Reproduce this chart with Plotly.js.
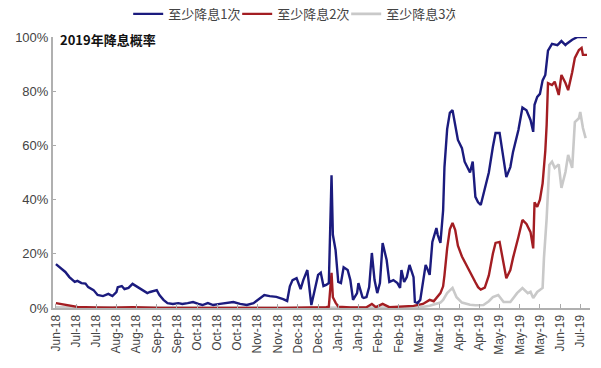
<!DOCTYPE html>
<html>
<head>
<meta charset="utf-8">
<script src="https://cdn.plot.ly/plotly-3.0.1.min.js"></script>
<style>html,body{margin:0;padding:0;background:#fff;}#chart{width:601px;height:368px;}</style>
</head>
<body>
<div id="chart"></div>
<script>
// Series names
const seriesNames = ["至少降息1次", "至少降息2次", "至少降息3次"];
const chartTitle = "2019年降息概率";

// 至少降息1次
const dates1 = ["2018-06-15","2018-06-18","2018-06-22","2018-06-25","2018-06-29","2018-07-01","2018-07-04","2018-07-07","2018-07-09","2018-07-13","2018-07-16","2018-07-20","2018-07-24","2018-07-27","2018-07-30","2018-07-31","2018-08-03","2018-08-05","2018-08-08","2018-08-11","2018-08-15","2018-08-19","2018-08-22","2018-08-24","2018-08-26","2018-08-29","2018-08-31","2018-09-03","2018-09-06","2018-09-10","2018-09-14","2018-09-17","2018-09-21","2018-09-25","2018-09-29","2018-10-02","2018-10-06","2018-10-10","2018-10-15","2018-10-20","2018-10-25","2018-10-30","2018-11-04","2018-11-09","2018-11-14","2018-11-17","2018-11-21","2018-11-26","2018-12-01","2018-12-04","2018-12-06","2018-12-08","2018-12-11","2018-12-14","2018-12-16","2018-12-19","2018-12-22","2018-12-25","2018-12-27","2018-12-29","2018-12-31","2019-01-02","2019-01-04","2019-01-06","2019-01-07","2019-01-09","2019-01-11","2019-01-13","2019-01-15","2019-01-18","2019-01-20","2019-01-22","2019-01-25","2019-01-26","2019-01-29","2019-01-30","2019-02-01","2019-02-03","2019-02-05","2019-02-07","2019-02-09","2019-02-11","2019-02-13","2019-02-16","2019-02-18","2019-02-21","2019-02-24","2019-02-26","2019-02-27","2019-03-01","2019-03-03","2019-03-05","2019-03-08","2019-03-09","2019-03-11","2019-03-13","2019-03-15","2019-03-17","2019-03-18","2019-03-20","2019-03-22","2019-03-23","2019-03-25","2019-03-26","2019-03-28","2019-03-30","2019-03-31","2019-04-02","2019-04-04","2019-04-06","2019-04-08","2019-04-10","2019-04-13","2019-04-15","2019-04-19","2019-04-21","2019-04-23","2019-04-25","2019-04-27","2019-04-30","2019-05-03","2019-05-06","2019-05-08","2019-05-11","2019-05-14","2019-05-16","2019-05-19","2019-05-21","2019-05-25","2019-05-28","2019-05-31","2019-06-03","2019-06-05","2019-06-06","2019-06-08","2019-06-10","2019-06-12","2019-06-14","2019-06-16","2019-06-19","2019-06-23","2019-06-26","2019-06-29","2019-06-30","2019-07-04","2019-07-08","2019-07-15"];
const rate1 = [16.2,14.8,13.3,11.4,9.6,10.0,9.2,9.0,7.7,6.6,4.8,4.4,5.2,4.4,5.9,7.7,8.1,7.0,7.4,8.9,7.7,6.6,5.5,5.9,6.3,6.6,4.8,3.0,1.8,1.5,1.8,1.5,1.8,2.2,1.5,1.1,1.8,1.1,1.5,1.8,2.2,1.5,1.1,1.8,3.7,4.8,4.4,4.1,3.3,2.6,8.0,10.3,11.0,7.0,10.3,14.0,1.1,7.4,12.2,13.0,8.1,8.5,9.2,49.0,27.0,21.4,9.6,9.2,15.0,14.0,10.3,3.0,5.5,9.2,4.0,3.7,4.0,7.7,20.3,10.3,5.5,9.2,24.0,17.7,9.6,10.3,9.2,7.4,14.0,9.6,11.4,15.9,11.4,2.2,1.8,3.0,10.3,15.9,14.8,12.2,24.4,26.2,29.5,27.0,24.0,36.0,52.0,66.0,72.0,73.0,67.0,62.0,59.0,54.0,50.0,54.0,41.0,39.0,38.0,43.5,50.0,59.4,64.6,64.6,54.6,48.3,52.0,57.6,65.7,74.0,73.0,69.4,65.0,75.0,77.9,79.0,84.0,86.0,95.0,97.5,97.0,98.5,97.0,97.5,99.0,100,100];

// 至少降息2次
const dates2 = ["2018-06-15","2018-06-18","2018-06-22","2018-06-25","2018-07-01","2018-07-13","2018-07-27","2018-08-11","2018-08-24","2018-08-31","2018-10-15","2018-11-30","2019-01-02","2019-01-04","2019-01-06","2019-01-07","2019-01-09","2019-01-11","2019-01-20","2019-02-01","2019-02-05","2019-02-08","2019-02-13","2019-02-18","2019-03-08","2019-03-15","2019-03-20","2019-03-23","2019-03-28","2019-03-30","2019-03-31","2019-04-02","2019-04-04","2019-04-06","2019-04-08","2019-04-10","2019-04-13","2019-04-15","2019-04-19","2019-04-21","2019-04-23","2019-04-25","2019-04-27","2019-04-30","2019-05-03","2019-05-06","2019-05-08","2019-05-11","2019-05-14","2019-05-16","2019-05-19","2019-05-21","2019-05-25","2019-05-28","2019-05-31","2019-06-03","2019-06-05","2019-06-06","2019-06-08","2019-06-10","2019-06-12","2019-06-14","2019-06-15","2019-06-16","2019-06-19","2019-06-21","2019-06-24","2019-06-26","2019-06-29","2019-07-01","2019-07-04","2019-07-06","2019-07-09","2019-07-11","2019-07-12","2019-07-15"];
const rate2 = [1.8,1.5,1.1,0.8,0.4,0.2,0.1,0.3,0.2,0,0,0,0.3,0.5,13.0,4.0,2.0,0.5,0.2,0.3,1.5,0.3,1.5,0.3,0.8,1.5,3.0,2.5,5.5,8.0,12.0,22.0,29.0,31.4,28.8,23.0,19.0,17.0,13.0,11.4,9.5,7.7,6.8,7.5,12.0,20.0,24.0,24.4,17.0,11.0,14.0,18.5,26.2,32.5,31.0,28.0,22.0,39.0,37.3,40.0,46.0,58.0,67.5,83.0,82.3,83.5,78.6,86.0,83.0,80.4,87.0,92.3,95.2,96.0,93.4,93.4];

// 至少降息3次
const dates3 = ["2018-06-15","2018-09-01","2018-12-01","2019-02-01","2019-03-13","2019-03-20","2019-03-25","2019-03-28","2019-03-30","2019-04-02","2019-04-04","2019-04-06","2019-04-09","2019-04-13","2019-04-19","2019-04-23","2019-04-29","2019-05-03","2019-05-06","2019-05-10","2019-05-14","2019-05-19","2019-05-24","2019-05-28","2019-06-01","2019-06-03","2019-06-05","2019-06-08","2019-06-12","2019-06-13","2019-06-15","2019-06-17","2019-06-19","2019-06-21","2019-06-24","2019-06-26","2019-06-29","2019-07-01","2019-07-04","2019-07-06","2019-07-09","2019-07-10","2019-07-12","2019-07-14"];
const rate3 = [0.3,0.1,0.1,0.2,0.3,0.8,1.5,2.0,3.0,5.5,6.5,7.4,4.0,2.0,1.2,1.0,1.1,2.5,4.0,4.8,2.2,2.2,5.5,7.4,5.5,6.0,3.7,5.9,7.4,18.4,33.0,52.8,54.0,51.7,53.0,44.3,50.2,56.5,51.7,68.6,70.0,72.3,66.4,62.7];

// Axis ticks
const tickDates = ["2018-06-15","2018-06-30","2018-07-15","2018-07-30","2018-08-14","2018-08-29","2018-09-13","2018-09-28","2018-10-13","2018-10-28","2018-11-12","2018-11-27","2018-12-12","2018-12-27","2019-01-11","2019-01-26","2019-02-10","2019-02-25","2019-03-12","2019-03-27","2019-04-11","2019-04-26","2019-05-11","2019-05-26","2019-06-10","2019-06-25","2019-07-10"];
const tickLabels = ["Jun-18","Jul-18","Jul-18","Aug-18","Aug-18","Sep-18","Sep-18","Oct-18","Oct-18","Oct-18","Nov-18","Nov-18","Dec-18","Dec-18","Jan-19","Jan-19","Feb-19","Feb-19","Mar-19","Mar-19","Apr-19","Apr-19","May-19","May-19","May-19","Jun-19","Jul-19"];
const yTicks = [0,20,40,60,80,100];
const yLabels = ["0%","20%","40%","60%","80%","100%"];

const colors = ["#1b1b7e", "#a31d22", "#c9c9c9"];

const traces = [
  {x: dates3, y: rate3, name: seriesNames[2], line: {color: colors[2], width: 2.6}, legendrank: 3},
  {x: dates2, y: rate2, name: seriesNames[1], line: {color: colors[1], width: 2.4}, legendrank: 2},
  {x: dates1, y: rate1, name: seriesNames[0], line: {color: colors[0], width: 2.4}, legendrank: 1}
].map(t => Object.assign({type: "scatter", mode: "lines", cliponaxis: false, hoverinfo: "skip"}, t));

const layout = {
  width: 601, height: 368,
  margin: {l: 53, r: 11, t: 37, b: 60, autoexpand: false},
  paper_bgcolor: "#fff", plot_bgcolor: "#fff",
  font: {family: "Liberation Sans, Arial, sans-serif", color: "#444"},
  showlegend: true,
  legend: {
    orientation: "h", x: 0.14, xanchor: "left", y: 1.085, yanchor: "middle",
    font: {family: "Noto Sans CJK SC, sans-serif", size: 13, color: "#444"},
    itemwidth: 30, entrywidth: 64, traceorder: "normal", bgcolor: "rgba(0,0,0,0)"
  },
  xaxis: {
    type: "date",
    range: ["2018-06-12 20:00", "2019-07-17 06:00"],
    tickmode: "array", tickvals: tickDates, ticktext: tickLabels,
    tickangle: -90, ticks: "inside", ticklen: 4, tickcolor: "#aaa",
    tickfont: {size: 12, color: "#444"},
    showline: true, linecolor: "#b0b0b0", linewidth: 2,
    showgrid: false, zeroline: false, fixedrange: true
  },
  yaxis: {
    range: [0, 100],
    tickmode: "array", tickvals: yTicks, ticktext: yLabels,
    ticks: "inside", ticklen: 3, tickcolor: "#aaa",
    tickfont: {size: 13, color: "#444"},
    showline: true, linecolor: "#b0b0b0", linewidth: 2,
    showgrid: false, zeroline: false, fixedrange: true
  },
  annotations: [{
    text: "<b>" + chartTitle + "</b>", xref: "paper", yref: "paper",
    x: 0.01, y: 0.99, xanchor: "left", yanchor: "middle", showarrow: false,
    font: {family: "Noto Sans CJK SC, sans-serif", size: 13, color: "#111"}
  }]
};

Plotly.newPlot("chart", traces, layout, {displayModeBar: false, staticPlot: true});
</script>
</body>
</html>
